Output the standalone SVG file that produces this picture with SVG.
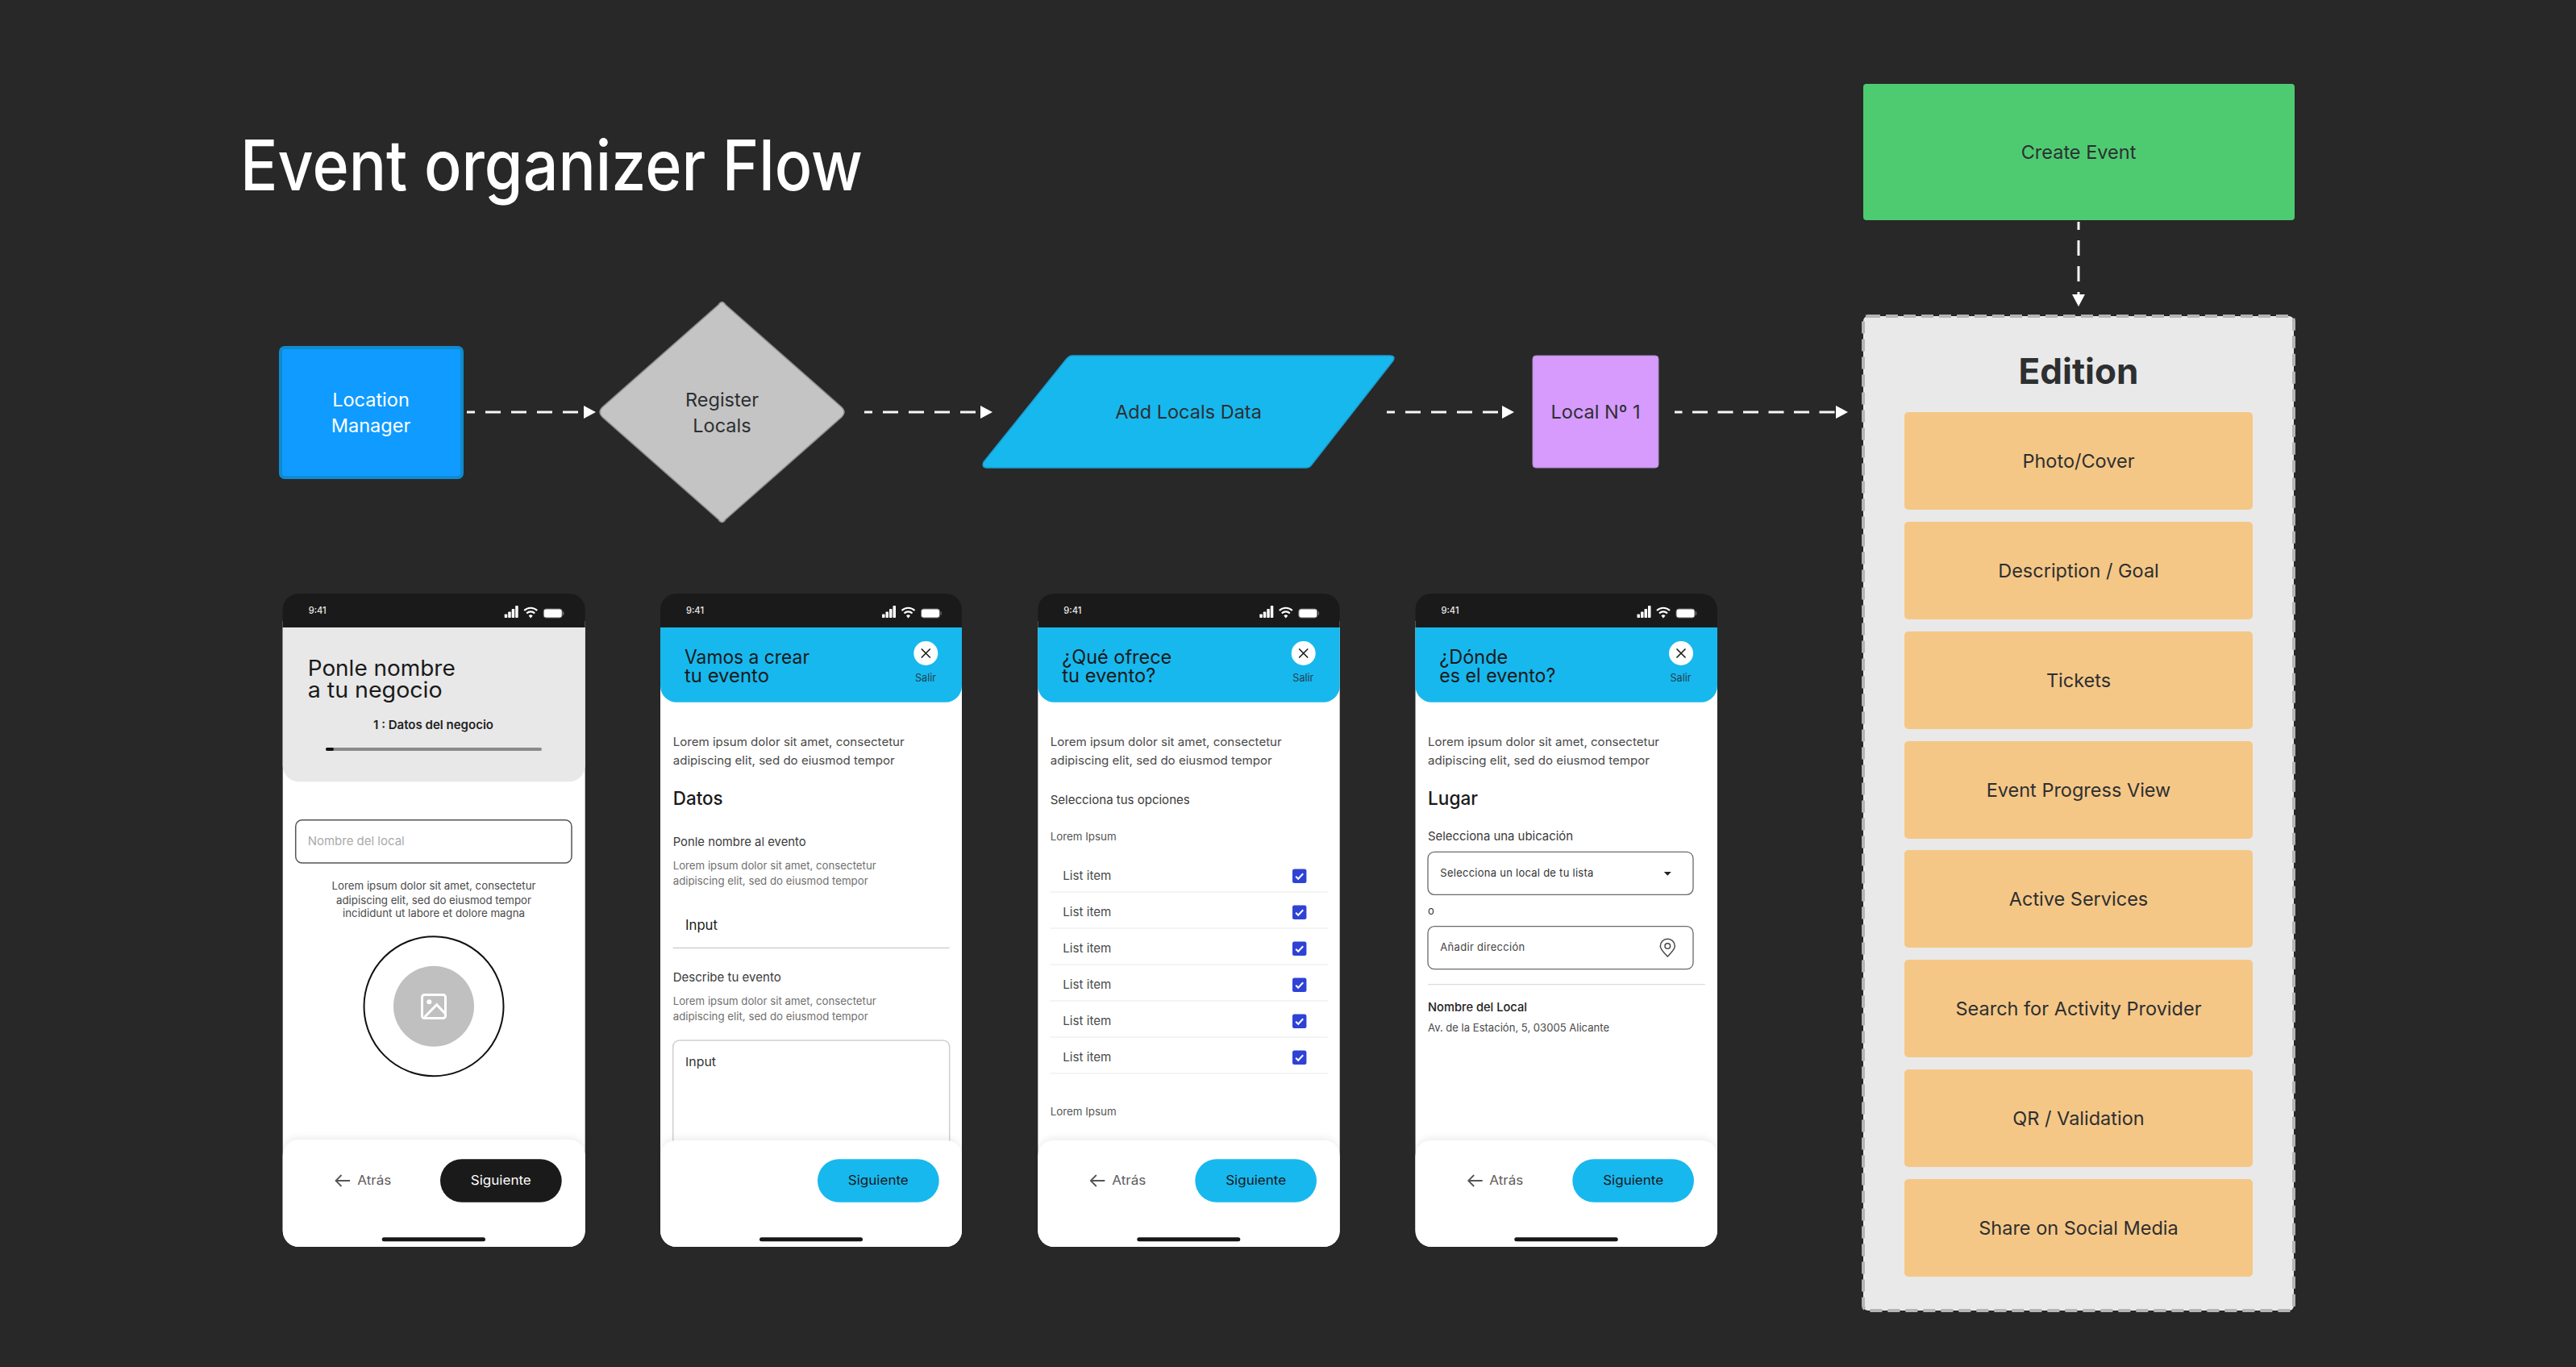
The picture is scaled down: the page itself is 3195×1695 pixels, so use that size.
<svg xmlns="http://www.w3.org/2000/svg" width="3195" height="1695" viewBox="0 0 3195 1695">
<defs>
<marker id="ah" markerUnits="userSpaceOnUse" markerWidth="16" markerHeight="18" refX="0" refY="9" orient="auto" viewBox="0 0 16 18"><path d="M0 1L15 9L0 17Z" fill="#fff"/></marker>
<filter id="sh" x="-5%" y="-10%" width="110%" height="120%"><feDropShadow dx="0" dy="-3" stdDeviation="4" flood-color="#000" flood-opacity=".07"/></filter>
<g id="status">
<rect x="275" y="25.500" width="3.500" height="4.500" rx=".8" fill="#fff"/><rect x="279.500" y="22.500" width="3.500" height="7.500" rx=".8" fill="#fff"/><rect x="284" y="19" width="3.500" height="11" rx=".8" fill="#fff"/><rect x="288.500" y="15" width="3.500" height="15" rx=".8" fill="#fff"/>
<path d="M299.500 21a11.500 11.500 0 0 1 16 0M302.500 24.500a7 7 0 0 1 10 0" fill="none" stroke="#fff" stroke-width="2.200"/><path d="M305 27.500a3.500 3.500 0 0 1 5 0L307.500 30.500Z" fill="#fff"/>
<rect x="323.500" y="19" width="23" height="11" rx="3" fill="#fff" stroke="#666" stroke-width="1"/><rect x="347.500" y="22.500" width="1.200" height="4" fill="#777"/>
</g>
<g id="close"><circle r="15" fill="#fff"/><path d="M-5.500-5.500L5.500 5.500M5.500-5.500L-5.500 5.500" stroke="#1a1a1a" stroke-width="1.600" fill="none"/></g>
<g id="chk"><rect x="-8.700" y="-8.700" width="17.400" height="17.400" rx="2.500" fill="#2f42d6"/><path d="M-4.500 .5L-1.500 3.500L4.500-3" fill="none" stroke="#fff" stroke-width="2"/></g>
</defs>
<style>
text{font-family:Inter,"Liberation Sans",sans-serif}
.n{font-size:23.500px;text-anchor:middle;fill:#2d2f31}
.c{stroke:#f7f7f7;stroke-width:3;stroke-dasharray:19 13;stroke-dashoffset:9;fill:none;marker-end:url(#ah)}
.i{fill:#f5c786}
.ph{fill:#fff}
.top{fill:#1a1a1a}
.t941{font-size:11.500px;font-weight:500;fill:#e8e8e8}
.hd{fill:#17b8ee}
.tt{font-size:24px;fill:#1a1a1a}
.tb{font-size:27px;fill:#1a1a1a}
.l{font-size:14.500px;fill:#4a4a4a}
.s{font-size:13px;fill:#707070}
.h2{font-size:23px;fill:#1a1a1a;font-weight:500}
.lb{font-size:15px;fill:#3a3a3a}
.li{font-size:15px;fill:#4a4a4a}
.sal{font-size:13px;fill:#24404f;text-anchor:middle}
.sig{font-size:16px;text-anchor:middle;fill:#1a1a1a}
.at{font-size:15.500px;fill:#5c5c5c}
.arr{fill:none;stroke:#555;stroke-width:1.800}
.bar{fill:#161616}
.div{stroke:#f0f0f0;stroke-width:1.500}
.bx{fill:#fff;stroke:#6a6a6a;stroke-width:1.300}
.sh{fill:#fff;filter:url(#sh)}
</style>
<rect width="3195" height="1695" fill="#282828"/>
<text id="title" x="298" y="236" font-size="86" font-weight="500" fill="#fff" textLength="772" lengthAdjust="spacingAndGlyphs">Event organizer Flow</text>

<g id="connectors">
<line class="c" x1="579" y1="511" x2="724" y2="511"/>
<line class="c" x1="1072" y1="511" x2="1216" y2="511"/>
<line class="c" x1="1720" y1="511" x2="1863" y2="511"/>
<line class="c" x1="2077" y1="511" x2="2277" y2="511" style="stroke-dasharray:19 12.500;stroke-dashoffset:9.500"/>
<line class="c" x1="2578" y1="275" x2="2578" y2="365"/>
</g>

<g id="location-manager"><rect x="348" y="431" width="225" height="161" rx="5" fill="#0f9bff" stroke="#0f8bcf" stroke-width="4"/><text class="n" style="fill:#fff" x="460" y="504">Location</text><text class="n" style="fill:#fff" x="460" y="536">Manager</text></g>
<g id="register-locals"><path d="M891 378Q895.500 371 900 378L1044 505Q1050 511 1044 517L900 644Q895.500 651 891 644L747 517Q741 511 747 505Z" fill="#c4c4c4" stroke="#8f8f8f" stroke-width="1.500"/><text class="n" x="895.500" y="504">Register</text><text class="n" x="895.500" y="536">Locals</text></g>
<g id="add-locals-data"><path d="M1330 441H1724Q1731 441 1728 447L1627 576Q1624 580 1620 580H1225Q1217 580 1220 573L1322 446Q1326 441 1330 441Z" fill="#17b8ee" stroke="#1a9dd0" stroke-width="1.500"/><text class="n" x="1474" y="519">Add Locals Data</text></g>
<g id="local-1"><rect x="1901" y="441" width="156" height="139" rx="4" fill="#d69bfd" stroke="#a98bbd" stroke-width="1"/><text class="n" x="1979" y="519">Local Nº 1</text></g>
<g id="create-event"><rect x="2311" y="104" width="535" height="169" rx="4" fill="#4ecb71"/><text class="n" x="2578" y="197">Create Event</text></g>

<g id="edition">
<rect x="2311" y="392" width="534" height="1233" rx="6" fill="#e9e9e9" stroke="#b5b5b5" stroke-width="4" stroke-dasharray="15 7"/>
<text x="2578" y="476" font-size="44" font-weight="700" fill="#2d2f31" text-anchor="middle">Edition</text>
</g>
<g id="item-1"><rect class="i" x="2362" y="511" width="432" height="121" rx="5"/><text class="n" x="2578" y="580">Photo/Cover</text></g>
<g id="item-2"><rect class="i" x="2362" y="647" width="432" height="121" rx="5"/><text class="n" x="2578" y="716">Description / Goal</text></g>
<g id="item-3"><rect class="i" x="2362" y="783" width="432" height="121" rx="5"/><text class="n" x="2578" y="852">Tickets</text></g>
<g id="item-4"><rect class="i" x="2362" y="919" width="432" height="121" rx="5"/><text class="n" x="2578" y="988">Event Progress View</text></g>
<g id="item-5"><rect class="i" x="2362" y="1054" width="432" height="121" rx="5"/><text class="n" x="2578" y="1123">Active Services</text></g>
<g id="item-6"><rect class="i" x="2362" y="1190" width="432" height="121" rx="5"/><text class="n" x="2578" y="1259">Search for Activity Provider</text></g>
<g id="item-7"><rect class="i" x="2362" y="1326" width="432" height="121" rx="5"/><text class="n" x="2578" y="1395">QR / Validation</text></g>
<g id="item-8"><rect class="i" x="2362" y="1462" width="432" height="121" rx="5"/><text class="n" x="2578" y="1531">Share on Social Media</text></g>

<g id="screen-1">
<path class="ph" d="M350.700 770H725.700V1526a20 20 0 0 1-20 20H370.700a20 20 0 0 1-20-20Z"/>
<path class="top" d="M350.700 778V756a20 20 0 0 1 20-20H705.700a20 20 0 0 1 20 20V778Z"/>
<text class="t941" x="382.700" y="760.500" textLength="22" lengthAdjust="spacingAndGlyphs">9:41</text>
<use href="#status" x="350.700" y="736"/>
<path d="M350.700 778H725.700V949.300a20 20 0 0 1-20 20H370.700a20 20 0 0 1-20-20Z" fill="#e8e8e8"/>
<text class="tb" x="381.700" y="838" textLength="183" lengthAdjust="spacingAndGlyphs">Ponle nombre</text>
<text class="tb" x="381.700" y="865" textLength="167" lengthAdjust="spacingAndGlyphs">a tu negocio</text>
<text x="463" y="904" font-size="15" font-weight="600" fill="#1f1f1f" textLength="149" lengthAdjust="spacingAndGlyphs">1 : Datos del negocio</text>
<rect x="404" y="927" width="268" height="4" rx="2" fill="#8a8a8a"/><rect x="404" y="927" width="10" height="4" rx="2" fill="#111"/>
<rect x="366.700" y="1016.700" width="342.300" height="53.300" rx="8" fill="#fff" stroke="#555" stroke-width="1.500"/>
<text x="381.700" y="1048" font-size="15" fill="#aaa" textLength="120" lengthAdjust="spacingAndGlyphs">Nombre del local</text>
<text class="l" style="font-size:13px" x="538" y="1102.700" text-anchor="middle" textLength="253" lengthAdjust="spacingAndGlyphs">Lorem ipsum dolor sit amet, consectetur</text>
<text class="l" style="font-size:13px" x="538" y="1120.700" text-anchor="middle" textLength="242" lengthAdjust="spacingAndGlyphs">adipiscing elit, sed do eiusmod tempor</text>
<text class="l" style="font-size:13px" x="538" y="1137.300" text-anchor="middle" textLength="226" lengthAdjust="spacingAndGlyphs">incididunt ut labore et dolore magna</text>
<circle cx="538" cy="1247.700" r="86.500" fill="#fff" stroke="#111" stroke-width="2"/>
<circle cx="538" cy="1247.700" r="50" fill="#c0c0c0"/>
<rect x="523.500" y="1233.500" width="29" height="29" rx="3" fill="none" stroke="#fff" stroke-width="3"/><circle cx="532.300" cy="1242.300" r="3" fill="#fff"/><path d="M526.700 1261L541.700 1245.700L552 1256.700" fill="none" stroke="#fff" stroke-width="3"/>
<path class="sh" d="M350.700 1433.300a20 20 0 0 1 20-20H705.700a20 20 0 0 1 20 20V1526a20 20 0 0 1-20 20H370.700a20 20 0 0 1-20-20Z"/>
<path class="arr" d="M434 1464H417M423.500 1457L416.500 1464L423.500 1471"/>
<text class="at" x="443.300" y="1469" textLength="42" lengthAdjust="spacingAndGlyphs">Atrás</text>
<rect x="546" y="1437.300" width="150.700" height="53.400" rx="26.700" fill="#1a1a1a"/>
<text class="sig" style="fill:#fff" x="621.300" y="1469" textLength="75" lengthAdjust="spacingAndGlyphs">Siguiente</text>
<rect class="bar" x="473.700" y="1534.300" width="128.300" height="5" rx="2.500"/>
</g>

<g id="screen-2">
<path class="ph" d="M819 770H1193V1526a20 20 0 0 1-20 20H839a20 20 0 0 1-20-20Z"/>
<path class="top" d="M819 778V756a20 20 0 0 1 20-20H1173a20 20 0 0 1 20 20V778Z"/>
<text class="t941" x="851" y="760.500" textLength="22" lengthAdjust="spacingAndGlyphs">9:41</text>
<use href="#status" x="819" y="736"/>
<path class="hd" d="M819 778H1193V850.700a20 20 0 0 1-20 20H839a20 20 0 0 1-20-20Z"/>
<text class="tt" x="849" y="822.700" textLength="155" lengthAdjust="spacingAndGlyphs">Vamos a crear</text>
<text class="tt" x="849" y="846" textLength="105" lengthAdjust="spacingAndGlyphs">tu evento</text>
<use href="#close" x="1148.300" y="810"/><text class="sal" x="1148" y="845" textLength="26" lengthAdjust="spacingAndGlyphs">Salir</text>
<text class="l" x="834.700" y="924.700" textLength="287" lengthAdjust="spacingAndGlyphs">Lorem ipsum dolor sit amet, consectetur</text>
<text class="l" x="834.700" y="947.700" textLength="275" lengthAdjust="spacingAndGlyphs">adipiscing elit, sed do eiusmod tempor</text>
<text class="h2" x="834.700" y="997.700" textLength="62" lengthAdjust="spacingAndGlyphs">Datos</text>
<text class="lb" x="834.700" y="1049.300" textLength="165" lengthAdjust="spacingAndGlyphs">Ponle nombre al evento</text>
<text class="s" x="834.700" y="1077.700" textLength="252" lengthAdjust="spacingAndGlyphs">Lorem ipsum dolor sit amet, consectetur</text>
<text class="s" x="834.700" y="1096.700" textLength="242" lengthAdjust="spacingAndGlyphs">adipiscing elit, sed do eiusmod tempor</text>
<text x="850" y="1153.300" font-size="17" fill="#1a1a1a" textLength="40" lengthAdjust="spacingAndGlyphs">Input</text>
<line x1="834.700" y1="1175.300" x2="1177.700" y2="1175.300" stroke="#bdbdbd" stroke-width="1"/>
<text class="lb" x="834.700" y="1217" textLength="134" lengthAdjust="spacingAndGlyphs">Describe tu evento</text>
<text class="s" x="834.700" y="1245.700" textLength="252" lengthAdjust="spacingAndGlyphs">Lorem ipsum dolor sit amet, consectetur</text>
<text class="s" x="834.700" y="1264.700" textLength="242" lengthAdjust="spacingAndGlyphs">adipiscing elit, sed do eiusmod tempor</text>
<rect x="834.700" y="1290" width="343" height="150" rx="8" fill="#fff" stroke="#cfcfcf" stroke-width="1.500"/>
<text x="850" y="1321.700" font-size="15" fill="#333" textLength="38" lengthAdjust="spacingAndGlyphs">Input</text>
<path class="sh" d="M819 1434a20 20 0 0 1 20-20H1173a20 20 0 0 1 20 20V1526a20 20 0 0 1-20 20H839a20 20 0 0 1-20-20Z"/>
<rect class="hd" x="1014" y="1437.300" width="150.700" height="53.400" rx="26.700"/>
<text class="sig" x="1089.300" y="1469" textLength="75" lengthAdjust="spacingAndGlyphs">Siguiente</text>
<rect class="bar" x="942" y="1534.300" width="128" height="5" rx="2.500"/>
</g>

<g id="screen-3">
<path class="ph" d="M1287.300 770H1661.700V1526a20 20 0 0 1-20 20H1307.300a20 20 0 0 1-20-20Z"/>
<path class="top" d="M1287.300 778V756a20 20 0 0 1 20-20H1641.700a20 20 0 0 1 20 20V778Z"/>
<text class="t941" x="1319.300" y="760.500" textLength="22" lengthAdjust="spacingAndGlyphs">9:41</text>
<use href="#status" x="1287.300" y="736"/>
<path class="hd" d="M1287.300 778H1661.700V850.700a20 20 0 0 1-20 20H1307.300a20 20 0 0 1-20-20Z"/>
<text class="tt" x="1317.300" y="822.700" textLength="136" lengthAdjust="spacingAndGlyphs">¿Qué ofrece</text>
<text class="tt" x="1317.300" y="846" textLength="116" lengthAdjust="spacingAndGlyphs">tu evento?</text>
<use href="#close" x="1616.700" y="810"/><text class="sal" x="1616.300" y="845" textLength="26" lengthAdjust="spacingAndGlyphs">Salir</text>
<text class="l" x="1302.700" y="924.700" textLength="287" lengthAdjust="spacingAndGlyphs">Lorem ipsum dolor sit amet, consectetur</text>
<text class="l" x="1302.700" y="947.700" textLength="275" lengthAdjust="spacingAndGlyphs">adipiscing elit, sed do eiusmod tempor</text>
<text class="lb" x="1302.700" y="997.300" textLength="173" lengthAdjust="spacingAndGlyphs">Selecciona tus opciones</text>
<text class="s" style="fill:#555" x="1302.700" y="1041.700" textLength="82" lengthAdjust="spacingAndGlyphs">Lorem Ipsum</text>
<text class="li" x="1318.300" y="1091" textLength="60" lengthAdjust="spacingAndGlyphs">List item</text>
<text class="li" x="1318.300" y="1136" textLength="60" lengthAdjust="spacingAndGlyphs">List item</text>
<text class="li" x="1318.300" y="1181" textLength="60" lengthAdjust="spacingAndGlyphs">List item</text>
<text class="li" x="1318.300" y="1226" textLength="60" lengthAdjust="spacingAndGlyphs">List item</text>
<text class="li" x="1318.300" y="1271" textLength="60" lengthAdjust="spacingAndGlyphs">List item</text>
<text class="li" x="1318.300" y="1316" textLength="60" lengthAdjust="spacingAndGlyphs">List item</text>
<use href="#chk" x="1611.700" y="1086.300"/><use href="#chk" x="1611.700" y="1131.300"/><use href="#chk" x="1611.700" y="1176.300"/><use href="#chk" x="1611.700" y="1221.300"/><use href="#chk" x="1611.700" y="1266.300"/><use href="#chk" x="1611.700" y="1311.300"/>
<line class="div" x1="1302.300" y1="1106" x2="1646.700" y2="1106"/><line class="div" x1="1302.300" y1="1151" x2="1646.700" y2="1151"/><line class="div" x1="1302.300" y1="1196" x2="1646.700" y2="1196"/><line class="div" x1="1302.300" y1="1241" x2="1646.700" y2="1241"/><line class="div" x1="1302.300" y1="1286" x2="1646.700" y2="1286"/><line class="div" x1="1302.300" y1="1331" x2="1646.700" y2="1331"/>
<text class="s" style="fill:#555" x="1302.700" y="1383.300" textLength="82" lengthAdjust="spacingAndGlyphs">Lorem Ipsum</text>
<path class="sh" d="M1287.300 1434a20 20 0 0 1 20-20H1641.700a20 20 0 0 1 20 20V1526a20 20 0 0 1-20 20H1307.300a20 20 0 0 1-20-20Z"/>
<path class="arr" d="M1370.300 1464H1353.300M1359.800 1457L1352.800 1464L1359.800 1471"/>
<text class="at" x="1379.300" y="1469" textLength="42" lengthAdjust="spacingAndGlyphs">Atrás</text>
<rect class="hd" x="1482.300" y="1437.300" width="150.700" height="53.400" rx="26.700"/>
<text class="sig" x="1557.700" y="1469" textLength="75" lengthAdjust="spacingAndGlyphs">Siguiente</text>
<rect class="bar" x="1410.300" y="1534.300" width="128" height="5" rx="2.500"/>
</g>

<g id="screen-4">
<path class="ph" d="M1755.500 770H2130V1526a20 20 0 0 1-20 20H1775.500a20 20 0 0 1-20-20Z"/>
<path class="top" d="M1755.500 778V756a20 20 0 0 1 20-20H2110a20 20 0 0 1 20 20V778Z"/>
<text class="t941" x="1787.500" y="760.500" textLength="22" lengthAdjust="spacingAndGlyphs">9:41</text>
<use href="#status" x="1755.500" y="736"/>
<path class="hd" d="M1755.500 778H2130V850.700a20 20 0 0 1-20 20H1775.500a20 20 0 0 1-20-20Z"/>
<text class="tt" x="1785.300" y="822.700" textLength="85" lengthAdjust="spacingAndGlyphs">¿Dónde</text>
<text class="tt" x="1785.300" y="846" textLength="144" lengthAdjust="spacingAndGlyphs">es el evento?</text>
<use href="#close" x="2085" y="810"/><text class="sal" x="2084.500" y="845" textLength="26" lengthAdjust="spacingAndGlyphs">Salir</text>
<text class="l" x="1771" y="924.700" textLength="287" lengthAdjust="spacingAndGlyphs">Lorem ipsum dolor sit amet, consectetur</text>
<text class="l" x="1771" y="947.700" textLength="275" lengthAdjust="spacingAndGlyphs">adipiscing elit, sed do eiusmod tempor</text>
<text class="h2" x="1771" y="997.700" textLength="62" lengthAdjust="spacingAndGlyphs">Lugar</text>
<text class="lb" x="1771" y="1042" textLength="180" lengthAdjust="spacingAndGlyphs">Selecciona una ubicación</text>
<rect class="bx" x="1771" y="1056.300" width="329" height="53" rx="8"/>
<text x="1786.300" y="1086.700" font-size="13" fill="#333" textLength="190" lengthAdjust="spacing">Selecciona un local de tu lista</text>
<path d="M2063.800 1081H2072.800L2068.300 1085.700Z" fill="#222"/>
<text x="1771" y="1134.300" font-size="13" fill="#333">o</text>
<rect class="bx" x="1771" y="1148.700" width="329" height="53" rx="8"/>
<text x="1786.300" y="1179.300" font-size="13" fill="#444" textLength="105" lengthAdjust="spacing">Añadir dirección</text>
<path d="M2068.300 1186C2063 1180.500 2059.300 1177 2059.300 1173.200A9 9 0 0 1 2077.300 1173.200C2077.300 1177 2073.600 1180.500 2068.300 1186Z" fill="none" stroke="#444" stroke-width="1.500"/><circle cx="2068.300" cy="1173" r="3.300" fill="none" stroke="#444" stroke-width="1.500"/>
<line x1="1771" y1="1220.700" x2="2114.700" y2="1220.700" stroke="#dcdcdc" stroke-width="1.300"/>
<text x="1771" y="1254" font-size="15" font-weight="500" fill="#222" textLength="123" lengthAdjust="spacingAndGlyphs">Nombre del Local</text>
<text x="1771" y="1279.300" font-size="13" fill="#4a4a4a" textLength="225" lengthAdjust="spacingAndGlyphs">Av. de la Estación, 5, 03005 Alicante</text>
<path class="sh" d="M1755.500 1434a20 20 0 0 1 20-20H2110a20 20 0 0 1 20 20V1526a20 20 0 0 1-20 20H1775.500a20 20 0 0 1-20-20Z"/>
<path class="arr" d="M1838.700 1464H1821.700M1828.200 1457L1821.200 1464L1828.200 1471"/>
<text class="at" x="1847.300" y="1469" textLength="42" lengthAdjust="spacingAndGlyphs">Atrás</text>
<rect class="hd" x="1950.300" y="1437.300" width="150.700" height="53.400" rx="26.700"/>
<text class="sig" x="2025.700" y="1469" textLength="75" lengthAdjust="spacingAndGlyphs">Siguiente</text>
<rect class="bar" x="1878.300" y="1534.300" width="128.400" height="5" rx="2.500"/>
</g>
</svg>
